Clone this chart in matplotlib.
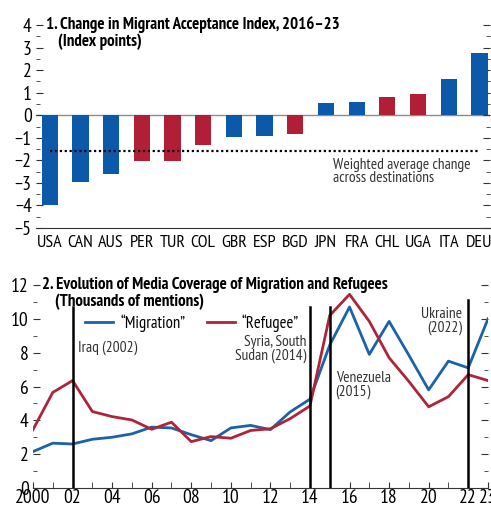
import matplotlib
matplotlib.use('Agg')
import matplotlib.pyplot as plt
import numpy as np
from matplotlib.ticker import MultipleLocator, FixedLocator

plt.rcParams['font.family'] = ['PT Sans Narrow', 'DejaVu Sans']

BLUE = '#0b59a8'
RED = '#b01f35'

# panel 1 data
countries = ['USA', 'CAN', 'AUS', 'PER', 'TUR', 'COL', 'GBR', 'ESP', 'BGD',
             'JPN', 'FRA', 'CHL', 'UGA', 'ITA', 'DEU']
change = [-4.0, -2.97, -2.6, -2.05, -2.03, -1.3, -0.96, -0.92, -0.84,
          0.53, 0.58, 0.8, 0.95, 1.59, 2.74]
bar_group = ['b', 'b', 'b', 'r', 'r', 'r', 'b', 'b', 'r',
             'b', 'b', 'r', 'r', 'b', 'b']
weighted_avg = -1.58

# panel 2 data
years = list(range(2000, 2024))
migration = [2.15, 2.65, 2.6, 2.88, 3.0, 3.2, 3.6, 3.55, 3.15, 2.8, 3.55, 3.7,
             3.45, 4.5, 5.25, 8.45, 10.7, 7.9, 9.85, 7.85, 5.8, 7.5, 7.1, 10.0]
refugee = [3.45, 5.65, 6.35, 4.52, 4.22, 4.02, 3.47, 3.89, 2.74, 3.04, 2.94, 3.4,
           3.5, 4.1, 4.85, 10.2, 11.45, 9.85, 7.7, 6.3, 4.8, 5.4, 6.7, 6.35]
events = [2002, 2014, 2015, 2022]
event_tops = [10.7, 10.7, 10.7, 11.1]
year_labels = ['2000', '02', '04', '06', '08', '10', '12', '14', '16', '18', '20', '22', '23']
year_label_pos = [2000, 2002, 2004, 2006, 2008, 2010, 2012, 2014, 2016, 2018, 2020, 2022, 2023]

fig = plt.figure(figsize=(4.91, 5.05), dpi=100)
fs = 12
note_fs = 11.2
tick_fs = 14
title_fs = 12.2

# ---- panel 1 ----
ax1 = fig.add_axes([0.0733, 0.5485, 0.925, 0.402])
x = np.arange(len(countries))
colors = [BLUE if g == 'b' else RED for g in bar_group]
ax1.bar(x, change, width=0.53, color=colors, zorder=2)
ax1.axhline(0, color='#8c8c8c', lw=1, zorder=1)
ax1.plot([0, len(countries) - 1], [weighted_avg, weighted_avg], color='black',
         ls=(0, (1, 1.2)), lw=1.6, zorder=3)
ax1.text(9.22, -1.88, 'Weighted average change\nacross destinations', fontsize=11.1,
         color='#333333', va='top', ha='left', linespacing=0.95)
ax1.set_xlim(-0.45, 14.35)
ax1.set_ylim(-5, 4)
ax1.set_xticks(x)
ax1.set_xticklabels(countries)
ax1.yaxis.set_minor_locator(MultipleLocator(0.5))
ax1.set_yticks(np.arange(-5, 5))
ax1.set_yticklabels([str(v).replace('-', '\u2212') for v in range(-5, 5)])
ax1.tick_params(axis='y', which='both', direction='in', left=True, right=True,
                labelsize=tick_fs, pad=3, color='#333333')
ax1.tick_params(axis='y', which='major', length=5)
ax1.tick_params(axis='y', which='minor', length=3)
ax1.tick_params(axis='x', length=0, labelsize=13, pad=5)
for s in ['left', 'right', 'top']:
    ax1.spines[s].set_visible(False)
ax1.spines['bottom'].set_color('#333333')
ax1.text(0.022, 1.0, '1. Change in Migrant Acceptance Index, 2016\u201323',
         transform=ax1.transAxes, fontsize=title_fs, fontweight='bold', va='center', ha='left')
ax1.text(0.048, 0.916, '(Index points)', transform=ax1.transAxes,
         fontsize=title_fs, fontweight='bold', va='center', ha='left')

# ---- panel 2 ----
ax2 = fig.add_axes([0.0672, 0.0337, 0.9267, 0.4019])
ax2.plot(years, migration, color='#1a62aa', lw=2, label='\u201cMigration\u201d', zorder=3)
ax2.plot(years, refugee, color='#ae2439', lw=2, label='\u201cRefugee\u201d', zorder=3)
for ev, top in zip(events, event_tops):
    ax2.plot([ev, ev], [0, top], color='black', lw=1.8, zorder=4)
ax2.text(2002.3, 8.3, 'Iraq (2002)', fontsize=note_fs, va='center', ha='left', color='#333333')
ax2.text(2013.8, 8.2, 'Syria, South\nSudan (2014)', fontsize=note_fs, va='center', ha='right',
         color='#333333', linespacing=0.95)
ax2.text(2015.3, 6.1, 'Venezuela\n(2015)', fontsize=note_fs, va='center', ha='left',
         color='#333333', linespacing=0.95)
ax2.text(2021.7, 9.9, 'Ukraine\n(2022)', fontsize=note_fs, va='center', ha='right',
         color='#333333', linespacing=0.95)
ax2.legend(loc='upper left', bbox_to_anchor=(0.1, 0.89), ncol=2, frameon=False,
           fontsize=fs, handlelength=1.7, handletextpad=0.4, columnspacing=1.3,
           borderaxespad=0)
ax2.set_xlim(2000, 2023)
ax2.set_ylim(0, 12)
ax2.xaxis.set_major_locator(FixedLocator(year_label_pos))
ax2.set_xticklabels(year_labels)
ax2.xaxis.set_minor_locator(MultipleLocator(1))
ax2.yaxis.set_major_locator(MultipleLocator(2))
ax2.yaxis.set_minor_locator(MultipleLocator(1))
ax2.tick_params(axis='both', which='both', direction='in', color='#333333')
ax2.tick_params(axis='y', which='both', left=True, right=True, labelsize=tick_fs, pad=3)
ax2.tick_params(axis='y', which='major', length=5)
ax2.tick_params(axis='y', which='minor', length=3)
ax2.tick_params(axis='x', which='both', length=4, labelsize=tick_fs, pad=1)
for s in ['left', 'right', 'top']:
    ax2.spines[s].set_visible(False)
ax2.spines['bottom'].set_color('#333333')
ax2.text(0.02, 1.0, '2. Evolution of Media Coverage of Migration and Refugees',
         transform=ax2.transAxes, fontsize=title_fs, fontweight='bold', va='center', ha='left')
ax2.text(0.048, 0.916, '(Thousands of mentions)', transform=ax2.transAxes,
         fontsize=title_fs, fontweight='bold', va='center', ha='left')

fig.savefig('out.png', dpi=100)
